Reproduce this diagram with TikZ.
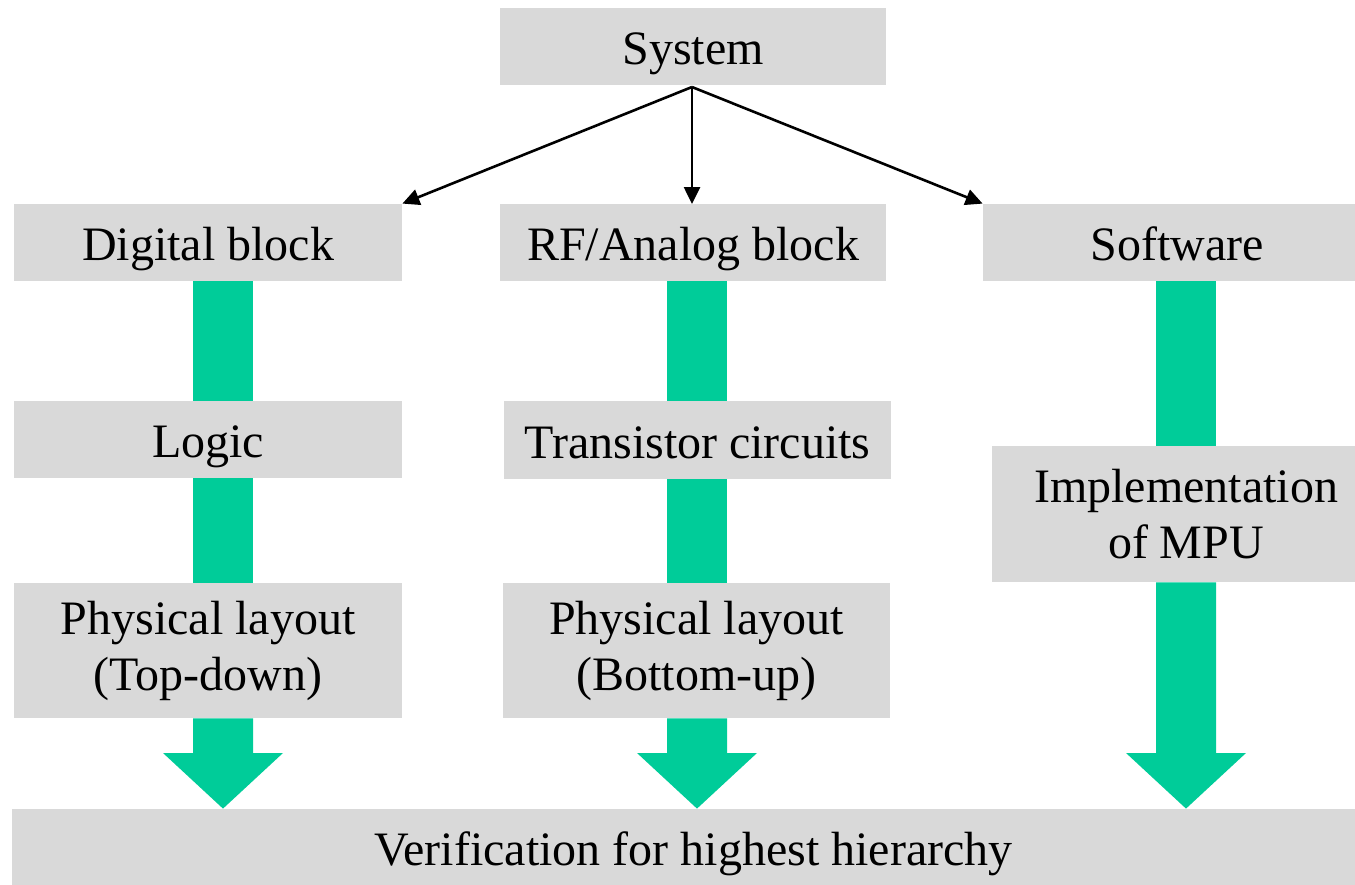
\documentclass[tikz,border=0pt]{standalone}
\usepackage{fontspec}
\setmainfont{Liberation Serif}
\usetikzlibrary{arrows.meta,calc}
\definecolor{boxgray}{HTML}{D9D9D9}
\definecolor{flowgreen}{HTML}{00CC99}
\begin{document}
\begin{tikzpicture}[x=0.5pt,y=-0.5pt,
  box/.style={fill=boxgray,draw=none,inner sep=0pt,minimum width=194pt,minimum height=38.5pt,
    font=\fontsize{24}{28}\selectfont,align=center},
  one/.style={text height=18pt,text depth=0pt},
  tall/.style={minimum height=67.5pt},
  flow/.style={fill=flowgreen,draw=none},
  link/.style={draw=black,line width=1.3pt,-{Triangle[length=8.5pt,width=8pt]}}]
\useasboundingbox (0,0) rectangle (1355,884);
\clip (0,0) rectangle (1355,884);
% nodes
\node[box,one,minimum width=193pt] (sys) at (693,46.5) {System};
\node[box,one] (dig) at (208,242.5) {Digital block};
\node[box,one,minimum width=193pt] (rf) at (693,242.5) {RF/Analog block};
\node[box,one] (sw) at (1177,242.5) {Software};
\node[box,one] (logic) at (208,439.5) {Logic};
\node[box,one,minimum width=193.5pt,minimum height=39pt] (tr) at (697.5,440) {Transistor circuits};
\node[box,minimum height=68pt] (impl) at (1186,514) {Implementation\\of MPU};
\node[box,tall] (pl1) at (208,650.5) {Physical layout\\(Top-down)};
\node[box,tall,minimum width=193.5pt] (pl2) at (696.5,650.5) {Physical layout\\(Bottom-up)};
\node[box,one,minimum width=681.5pt] (ver) at (693.5,847.5) {Verification for highest hierarchy};
% column axes
\coordinate (cA) at (223,0);
\coordinate (cB) at (697,0);
\coordinate (cC) at (1186,0);
% green flow bars
\fill[flow] ($(cA |- dig.south)+(-30,0)$) rectangle ($(cA |- logic.north)+(30,0)$);
\fill[flow] ($(cA |- logic.south)+(-30,0)$) rectangle ($(cA |- pl1.north)+(30,0)$);
\fill[flow] ($(cB |- rf.south)+(-30,0)$) rectangle ($(cB |- tr.north)+(30,0)$);
\fill[flow] ($(cB |- tr.south)+(-30,0)$) rectangle ($(cB |- pl2.north)+(30,0)$);
\fill[flow] ($(cC |- sw.south)+(-30,0)$) rectangle ($(cC |- impl.north)+(30,0)$);
% block arrows into verification
\fill[flow] ($(cA |- pl1.south)+(-30,0)$) -- ($(cA |- pl1.south)+(30,0)$) -- (253,753) -- (283,753)
  -- (cA |- ver.north) -- (163,753) -- (193,753) -- cycle;
\fill[flow] ($(cB |- pl2.south)+(-30,0)$) -- ($(cB |- pl2.south)+(30,0)$) -- (727,753) -- (757,753)
  -- (cB |- ver.north) -- (637,753) -- (667,753) -- cycle;
\fill[flow] ($(cC |- impl.south)+(-30,0)$) -- ($(cC |- impl.south)+(30,0)$) -- (1216,753) -- (1246,753)
  -- (cC |- ver.north) -- (1126,753) -- (1156,753) -- cycle;
% system arrows
\coordinate (apex) at (692,87);
\draw[link] (apex) -- (dig.north east);
\draw[link] (apex) -- (692,204);
\draw[link] (apex) -- (sw.north west);
\end{tikzpicture}
\end{document}
